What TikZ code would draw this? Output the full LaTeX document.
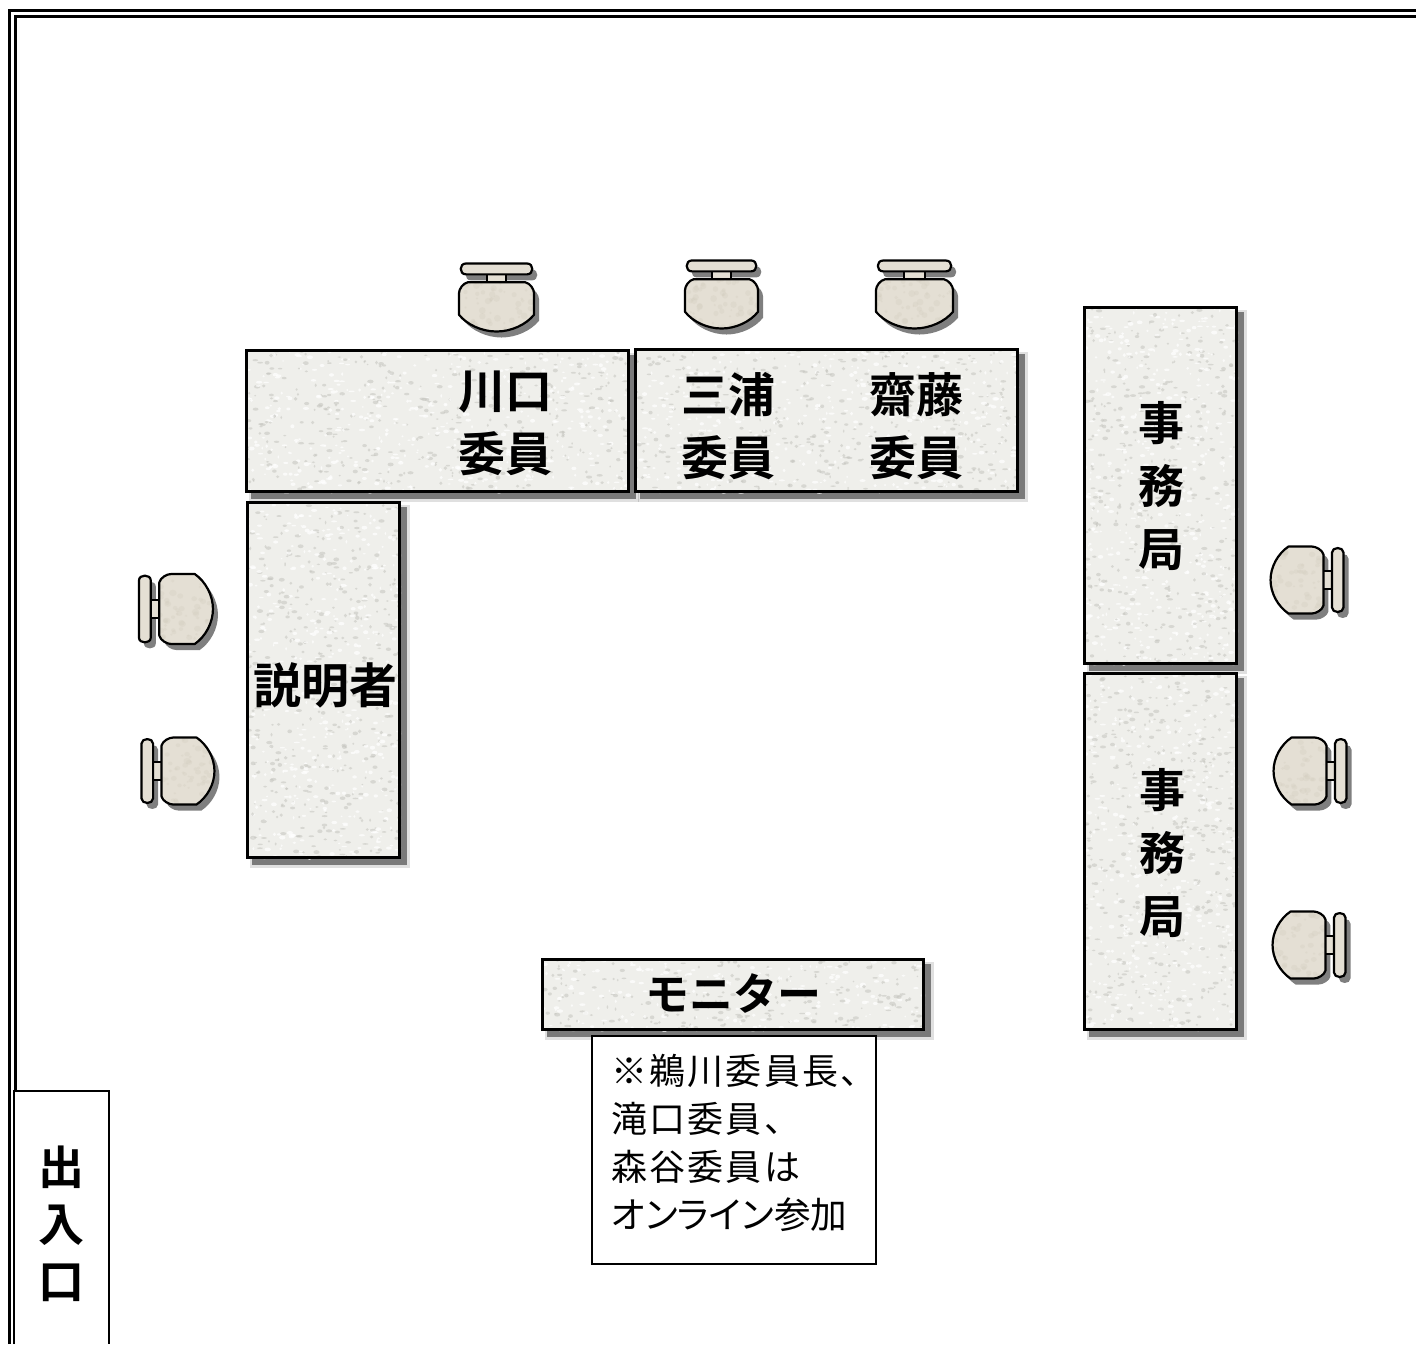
\documentclass[tikz,border=0pt]{standalone}
\usepackage{fontspec}
\setmainfont{Noto Sans CJK JP}[BoldFont={Noto Sans CJK JP Bold}]
\newfontfamily\jpreg{Noto Sans CJK JP}[BoldFont={Noto Sans CJK JP Bold}]
\newfontfamily\jpregp{Noto Sans CJK JP}[RawFeature=+palt]
\newfontfamily\jpregs{Noto Sans CJK JP}[LetterSpace=6]
\usetikzlibrary{calc}
\definecolor{granite}{HTML}{EFEFEB}
\definecolor{speckdark}{HTML}{C4C4BE}
\definecolor{beige}{HTML}{E4DFD4}
\definecolor{beigedark}{HTML}{D2CCBE}
\tikzset{
  x=0.5pt,y=-0.5pt,
  edge/.style={draw=black,line width=1.45pt,line join=miter},
  thinbox/.style={draw=black,fill=white,line width=0.8pt},
  label/.style={inner sep=0pt,align=center,font=\jpreg\bfseries\fontsize{23.5}{31.5}\selectfont},
  vlabel/.style={inner sep=0pt,align=center,font=\jpreg\bfseries\fontsize{23}{31.5}\selectfont},
  chairline/.style={draw=black,line width=1.1pt,line join=round},
}
% rectangle table with shadow and speckled surface: x0 y0 x1 y1
\newcommand{\gtable}[4]{%
  \fill[black,opacity=.12] (#1+4,#2+4) rectangle (#3+9,#4+9);
  \fill[black,opacity=.45] (#1+6,#2+6) rectangle (#3+6,#4+6);
  \fill[granite] (#1,#2) rectangle (#3,#4);
  \begin{scope}
    \clip (#1,#2) rectangle (#3,#4);
    \pgfmathtruncatemacro{\nspeck}{((#3-#1)/8)*((#4-#2)/8)}
    \foreach \i in {1,...,\nspeck}{
      \pgfmathsetmacro{\sx}{#1+rnd*(#3-#1)}
      \pgfmathsetmacro{\sy}{#2+rnd*(#4-#2)}
      \pgfmathsetmacro{\sa}{0.8+rnd*2.4}
      \pgfmathsetmacro{\sb}{0.7+rnd*1.3}
      \pgfmathsetmacro{\so}{rnd}
      \ifdim\so pt<0.5pt
        \fill[speckdark,opacity=.55] (\sx,\sy) ellipse [x radius=\sa,y radius=\sb];
      \else
        \fill[white,opacity=.7] (\sx,\sy) ellipse [x radius=\sa,y radius=\sb];
      \fi
    }
  \end{scope}
  \draw[edge] (#1+1.2,#2+1.2) rectangle (#3-1.2,#4-1.2);
}
\def\seatpath{(-29,-16) -- (29,-16) .. controls (34,-15) and (38,-9) .. (38,-5) -- (38,17) .. controls (30,27) and (15,34) .. (0,34) .. controls (-15,34) and (-30,27) .. (-38,17) -- (-38,-5) .. controls (-38,-9) and (-34,-15) .. (-29,-16) -- cycle}
\def\barpath{(-31,-35) -- (31,-35) .. controls (38,-35) and (38,-24) .. (31,-24) -- (-31,-24) .. controls (-38,-24) and (-38,-35) .. (-31,-35) -- cycle}
\def\stempath{(-10,-25) rectangle (10,-15)}
% cx cy rotation width depth
\newcommand{\chair}[5]{%
  \pgfmathsetmacro{\csx}{#4/76}
  \pgfmathsetmacro{\csy}{#5/69}
  \begin{scope}[shift={(#1+5,#2+6)},rotate=#3,xscale=\csx,yscale=\csy]
    \fill[black,opacity=.5] \seatpath;
    \fill[black,opacity=.5] \barpath;
  \end{scope}
  \begin{scope}[shift={(#1,#2)},rotate=#3,xscale=\csx,yscale=\csy]
    \filldraw[fill=beige,chairline] \stempath;
    \filldraw[fill=beige,chairline] \barpath;
    \fill[beige] \seatpath;
    \begin{scope}
      \clip \seatpath;
      \foreach \i in {1,...,60}{
        \pgfmathsetmacro{\sx}{-38+rnd*76}
        \pgfmathsetmacro{\sy}{-16+rnd*50}
        \pgfmathsetmacro{\sa}{1+rnd*2.5}
        \fill[beigedark,opacity=.3] (\sx,\sy) circle [radius=\sa];
      }
    \end{scope}
    \draw[chairline] \seatpath;
  \end{scope}
}
\begin{document}
\begin{tikzpicture}
\pgfmathsetseed{42}
\useasboundingbox (0,0) rectangle (1416,1344);
\fill[white] (0,0) rectangle (1416,1344);
% double frame, open at right and bottom
\draw[black,line width=1.7pt] (9.5,1344) -- (9.5,10.5) -- (1416,10.5);
\draw[black,line width=1.7pt] (15.5,1344) -- (15.5,16.5) -- (1416,16.5);
% chairs
\chair{496.5}{298}{0}{75}{68}
\chair{721.5}{295}{0}{73}{68}
\chair{914.5}{295}{0}{77}{68}
\chair{176.5}{609}{90}{70}{74}
\chair{178.5}{771}{90}{67}{73}
\chair{1306.5}{580}{-90}{67}{73}
\chair{1309.5}{771}{-90}{67}{73}
\chair{1308.5}{945}{-90}{67}{73}
% tables
\gtable{245}{349}{630}{493}
\gtable{634}{348}{1019}{493}
\gtable{246}{501}{401}{859}
\gtable{1083}{306}{1238}{665}
\gtable{1083}{672}{1238}{1031}
\gtable{541}{958}{925}{1031}
% table labels
\node[label] (kawaguchi) at (505,423.5) {川口\\委員};
\node[label] (miura) at (728,426) {三浦\\委員};
\node[label] (saito) at (916,426) {齋藤\\委員};
\node[label,font=\jpreg\bfseries\fontsize{24}{31.5}\selectfont] (setsumei) at (325,685) {説明者};
\node[vlabel] (jimu1) at (1161,486) {事\\務\\局};
\node[vlabel] (jimu2) at (1162,853) {事\\務\\局};
\node[label,font=\jpreg\bfseries\fontsize{22}{26}\selectfont] (monitor) at (733,994) {モニター};
% note
\path[thinbox] (592,1036) rectangle (876,1264);
\node[inner sep=0pt,anchor=north west,align=left,font=\jpregp\fontsize{18.3}{24}\selectfont] (note) at (611,1054) {{\jpregs\fontsize{18}{24}\selectfont ※鵜川委員長、}\\{\jpregs\fontsize{18}{24}\selectfont 滝口委員、}\\{\jpregs\fontsize{18}{24}\selectfont 森谷委員は}\\オンライン参加};
% entrance
\draw[thinbox] (14,1344) -- (14,1091) -- (109,1091) -- (109,1344);
\node[vlabel,font=\jpreg\bfseries\fontsize{23}{28.5}\selectfont] (door) at (62,1224) {出\\入\\口};
\end{tikzpicture}
\end{document}
